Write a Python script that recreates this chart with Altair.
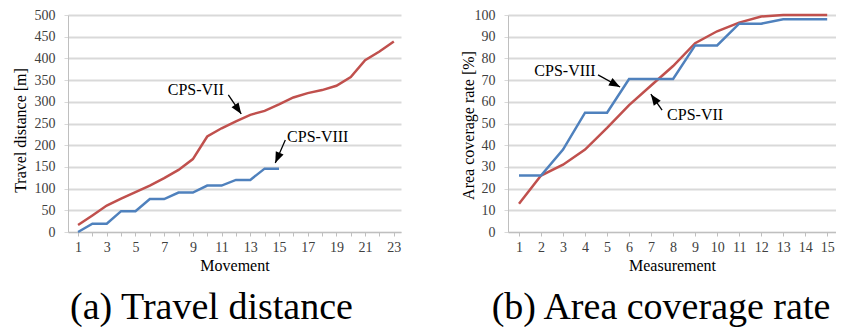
import math
import altair as alt
import pandas as pd

FONT = "Liberation Serif"
RED = "#c0504d"
BLUE = "#4f81bd"
GRID = "#d9d9d9"
AXIS = "#bfbfbf"

# ---- (a) Travel distance ----
move7 = list(range(1, 24))
dist7 = [16, 38, 61, 77, 92, 107, 124, 143, 168, 220, 239, 255, 270, 279, 294,
         310, 320, 327, 337, 357, 396, 416, 439]
move8 = list(range(1, 16))
dist8 = [0, 19, 19, 48, 48, 76, 76, 91, 91, 107, 107, 120, 120, 146, 146]

# ---- (b) Area coverage rate ----
meas = list(range(1, 16))
cov7 = [13, 26, 31, 38, 48, 58.5, 67.5, 76.5, 87, 92.5, 96.5, 99.3, 100, 100, 100]
cov8 = [26, 26, 38, 55, 55, 70.5, 70.5, 70.5, 86, 86, 96, 96, 98, 98, 98]

series = ["CPS-VII", "CPS-VIII"]

# annotations (data coordinates)
a_lab = ["CPS-VII", "CPS-VIII"]
a_lab_x = [9.2, 17.7]
a_lab_y = [327, 219]
a_arr_x = [11.47, 15.44]
a_arr_y = [316, 212]
a_tip_x = [12.37, 14.74]
a_tip_y = [272, 159]

b_lab = ["CPS-VIII", "CPS-VII"]
b_lab_x = [3.09, 9.0]
b_lab_y = [74.2, 53.9]
b_arr_x = [4.59, 7.5]
b_arr_y = [72.4, 56.2]
b_tip_x = [5.59, 6.99]
b_tip_y = [66.8, 63.5]

A_W, B_W, H = 333, 328, 217
A_XDOM, B_XDOM = [0.3, 23.5], [0.5, 15.4]
A_YDOM, B_YDOM = [0, 500], [0, 100]

ARROW = "M0,0L1,2.6L-1,2.6Z"


def angles(sx, sy, tx, ty, xdom, ydom, w, h):
    kx = w / (xdom[1] - xdom[0])
    ky = h / (ydom[1] - ydom[0])
    out = []
    for a, b, c, d in zip(sx, sy, tx, ty):
        dx = (c - a) * kx
        dy = -(d - b) * ky
        ang = math.degrees(math.atan2(dx, -dy)) % 360
        out.append(ang)
    return out


def panel(lines_df, lab, lx, ly, sx, sy, tx, ty, xdom, ydom, w, xvals, xlabelexpr,
          yvals, xtitle, ytitle, ytitle_x, ytitle_y, caption, cap_dx):
    xscale = alt.Scale(domain=xdom, nice=False, zero=False)
    yscale = alt.Scale(domain=ydom, nice=False)
    xaxis = alt.Axis(values=xvals, labelExpr=xlabelexpr, title=xtitle, grid=False,
                     labelOverlap=False, labelFlush=False,
                     domainColor=AXIS, tickColor=AXIS, tickSize=4, labelPadding=4,
                     titlePadding=3)
    yaxis = alt.Axis(values=yvals, title=ytitle, grid=True, gridColor=GRID, gridWidth=2,
                     labelOverlap=False, labelFlush=False,
                     domainColor=AXIS, tickColor=GRID, tickSize=4, labelPadding=9,
                     titleX=ytitle_x, titleY=ytitle_y, titleBaseline="middle")
    lines = alt.Chart(lines_df).mark_line(strokeWidth=2.5).encode(
        x=alt.X("x:Q", scale=xscale, axis=xaxis),
        y=alt.Y("y:Q", scale=yscale, axis=yaxis),
        color=alt.Color("s:N", scale=alt.Scale(domain=series, range=[RED, BLUE]), legend=None),
    )
    ann = pd.DataFrame({
        "lab": lab, "lx": lx, "ly": ly, "sx": sx, "sy": sy, "tx": tx, "ty": ty,
        "ang": angles(sx, sy, tx, ty, xdom, ydom, w, H),
    })
    text = alt.Chart(ann).mark_text(font=FONT, fontSize=16, color="black").encode(
        x=alt.X("lx:Q", scale=xscale, axis=xaxis),
        y=alt.Y("ly:Q", scale=yscale, axis=yaxis), text="lab:N")
    shaft = alt.Chart(ann).mark_rule(color="black", strokeWidth=1.3).encode(
        x=alt.X("sx:Q", scale=xscale, axis=xaxis),
        y=alt.Y("sy:Q", scale=yscale, axis=yaxis),
        x2="tx:Q", y2="ty:Q")
    head = alt.Chart(ann).mark_point(shape=ARROW, filled=True, size=72, color="black",
                                     opacity=1).encode(
        x=alt.X("tx:Q", scale=xscale, axis=xaxis),
        y=alt.Y("ty:Q", scale=yscale, axis=yaxis),
        angle=alt.Angle("ang:Q", scale=None))
    return alt.layer(lines, shaft, head, text).properties(
        width=w, height=H,
        title=alt.TitleParams(caption, orient="bottom", anchor="middle", frame="group",
                              dx=cap_dx, offset=16, font=FONT, fontSize=38,
                              fontWeight="normal", color="black"),
    )


a_df = pd.concat([
    pd.DataFrame({"x": move7, "y": dist7, "s": series[0]}),
    pd.DataFrame({"x": move8, "y": dist8, "s": series[1]}),
])
b_df = pd.concat([
    pd.DataFrame({"x": meas, "y": cov7, "s": series[0]}),
    pd.DataFrame({"x": meas, "y": cov8, "s": series[1]}),
])

left = panel(a_df, a_lab, a_lab_x, a_lab_y, a_arr_x, a_arr_y, a_tip_x, a_tip_y,
             A_XDOM, A_YDOM, A_W, move7, "datum.value % 2 == 1 ? datum.label : ''",
             list(range(0, 501, 50)), "Movement", "Travel distance [m]", -48, 115,
             "(a) Travel distance", -23)
right = panel(b_df, b_lab, b_lab_x, b_lab_y, b_arr_x, b_arr_y, b_tip_x, b_tip_y,
              B_XDOM, B_YDOM, B_W, meas, "datum.label",
              list(range(0, 101, 10)), "Measurement", "Area coverage rate [%]", -40, 110,
              "(b) Area coverage rate", -11)

chart = alt.hconcat(left, right, spacing=107, bounds="flush").properties(
    padding={"left": 4, "top": 0, "right": 0, "bottom": 0},
    background="white",
).configure_view(stroke=None).configure_axis(
    labelFont=FONT, labelFontSize=14, labelColor="#404040",
    titleFont=FONT, titleFontSize=16, titleFontWeight="normal", titleColor="black",
)

chart.save("out.html", embed_options={"renderer": "svg", "actions": False})
